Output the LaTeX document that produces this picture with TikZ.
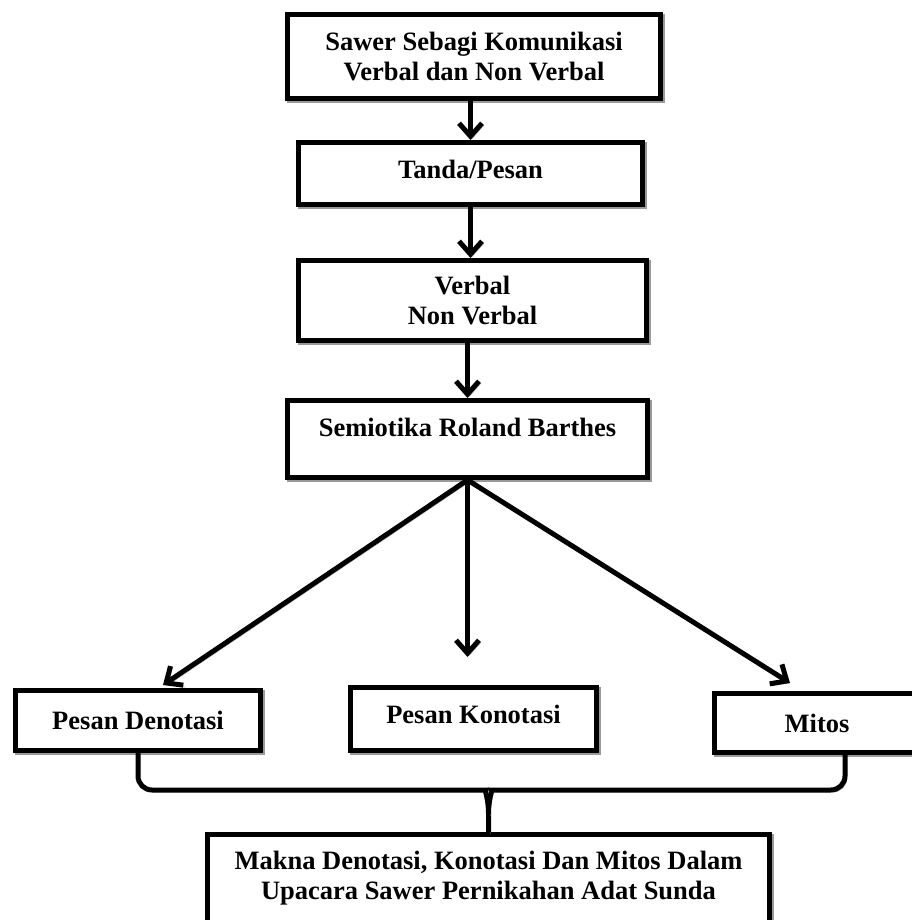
\documentclass[tikz,border=0pt]{standalone}
\usepackage{fontspec}
\setmainfont{Liberation Serif}
\usepackage{tikz}
\usetikzlibrary{arrows.meta}
\definecolor{ink}{HTML}{000000}
\definecolor{shade}{HTML}{9A9A9A}
\tikzset{
  >={Straight Barb[length=13pt,width=23pt]},
  shadowed/.style={preaction={draw=shade,transform canvas={shift={(2pt,-2pt)}}}},
  box/.style={draw=ink,fill=white,line width=5pt,inner sep=0pt,align=center,
    font=\bfseries\fontsize{26.5}{30}\selectfont,shadowed},
  flow/.style={->,line width=5pt,color=ink,shadowed},
  brace/.style={line width=5pt,color=ink,rounded corners=14pt,shadowed},
}

\begin{document}
\begin{tikzpicture}[x=1pt,y=-1pt]
  \useasboundingbox (0,0) rectangle (911,920);
  % main column
  \node[box,minimum width=373pt,minimum height=84pt] (sawer) at (474,56.5)
    {Sawer Sebagi Komunikasi\\Verbal dan Non Verbal};
  \node[box,minimum width=344pt,minimum height=62pt,text depth=8pt] (tanda) at (470.5,173.5) {Tanda/Pesan};
  \node[box,minimum width=348pt,minimum height=80pt] (verbal) at (472.5,300.5) {Verbal\\Non Verbal};
  \node[box,minimum width=360pt,minimum height=77pt,text depth=24pt] (barthes) at (467.5,439)
    {Semiotika Roland Barthes};
  % three kinds of meaning
  \node[box,minimum width=245pt,minimum height=60pt] (denotasi) at (138,720.5) {Pesan Denotasi};
  \node[box,minimum width=246pt,minimum height=63pt,text depth=10pt] (konotasi) at (473.5,719) {Pesan Konotasi};
  \node[box,minimum width=205pt,minimum height=59pt] (mitos) at (817,723) {Mitos};
  \node[box,minimum width=562pt,minimum height=88pt] (makna) at (488.5,878.5)
    {Makna Denotasi, Konotasi Dan Mitos Dalam\\Upacara Sawer Pernikahan Adat Sunda};
  \coordinate (tipL) at (163,685);
  \coordinate (tipM) at (467.5,657);
  \coordinate (tipR) at (790,683);
  \coordinate (braceR) at (845,753);

  \draw[flow] (sawer.south -| tanda.north) -- (tanda.north);
  \draw[flow] (tanda.south) -- (verbal.north -| tanda.south);
  \draw[flow] (verbal.south -| barthes.north) -- (barthes.north);
  \draw[flow] (barthes.south) -- (tipL);
  \draw[flow] (barthes.south) -- (tipM);
  \draw[flow] (barthes.south) -- (tipR);

  % brace joining the three boxes
  \draw[brace] (denotasi.south) |- (472,790) [sharp corners]
    .. controls (484,790) and (488.5,797) .. (488.5,814) -- (makna.north);
  \draw[brace] (braceR) |- (505,790) [sharp corners]
    .. controls (493,790) and (488.5,797) .. (488.5,814);
\end{tikzpicture}
\end{document}
